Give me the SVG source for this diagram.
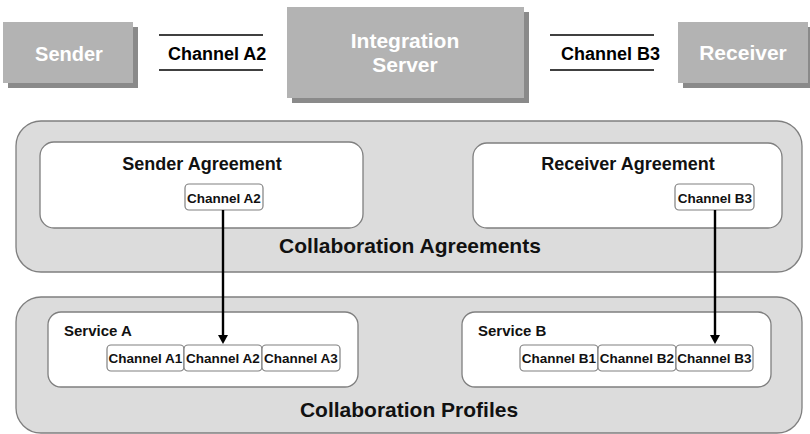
<svg xmlns="http://www.w3.org/2000/svg" width="810" height="434" viewBox="0 0 810 434">
  <defs>
    <marker id="arrowhead" markerWidth="9" markerHeight="10" refX="0" refY="5" orient="auto" markerUnits="userSpaceOnUse" viewBox="0 0 9 10">
      <path d="M0,0 L9,5 L0,10 Z" fill="#000"/>
    </marker>
  </defs>
  <style>
    text { font-family: "Liberation Sans", Arial, sans-serif; font-weight: bold; }
    .sys { fill: #b3b3b3; }
    .shadow { fill: #8a8a8a; }
    .sysLabel { fill: #ffffff; font-size: 21px; text-anchor: middle; }
    .chanLabel { fill: #000; font-size: 18px; }
    .rule { stroke: #000; stroke-width: 1.3; }
    .area { fill: #dcdcdc; stroke: #7f7f7f; stroke-width: 1.3; }
    .panel { fill: #ffffff; stroke: #7f7f7f; stroke-width: 1.3; }
    .chan { fill: #ffffff; stroke: #808080; stroke-width: 1.2; }
    .areaLabel { fill: #111; font-size: 21px; text-anchor: middle; }
    .panelLabel { fill: #111; font-size: 18px; text-anchor: middle; }
    .svcLabel { fill: #111; font-size: 15px; }
    .chanText { fill: #111; font-size: 13.5px; text-anchor: middle; }
    .link { stroke: #000; stroke-width: 2.4; fill: none; }
  </style>

  <!-- Top row: systems and channels -->
  <g id="sender">
    <rect class="shadow" x="8" y="27" width="130" height="61"/>
    <rect class="sys" x="3" y="22" width="130" height="61"/>
    <text class="sysLabel" x="69" y="61" style="font-size:20px">Sender</text>
  </g>
  <g id="channel-a2-top">
    <line class="rule" x1="159" y1="35" x2="263" y2="35"/>
    <line class="rule" x1="159" y1="70" x2="263" y2="70"/>
    <text class="chanLabel" x="168" y="60">Channel A2</text>
  </g>
  <g id="integration-server">
    <rect class="shadow" x="292" y="12" width="237" height="91"/>
    <rect class="sys" x="287" y="7" width="237" height="91"/>
    <text class="sysLabel" x="405" y="48">Integration</text>
    <text class="sysLabel" x="405" y="72">Server</text>
  </g>
  <g id="channel-b3-top">
    <line class="rule" x1="550" y1="35" x2="654" y2="35"/>
    <line class="rule" x1="550" y1="70" x2="654" y2="70"/>
    <text class="chanLabel" x="561" y="60">Channel B3</text>
  </g>
  <g id="receiver">
    <rect class="shadow" x="683" y="27" width="130" height="61"/>
    <rect class="sys" x="678" y="22" width="130" height="61"/>
    <text class="sysLabel" x="743" y="60">Receiver</text>
  </g>

  <!-- Collaboration agreements -->
  <g id="collaboration-agreements">
    <rect class="area" x="16" y="121" width="786" height="151" rx="25" ry="25"/>
    <text class="areaLabel" x="410" y="253">Collaboration Agreements</text>
  </g>
  <g id="sender-agreement">
    <rect class="panel" x="40" y="142" width="323" height="86" rx="14" ry="14"/>
    <text class="panelLabel" x="202" y="170">Sender Agreement</text>
    <rect class="chan" x="185" y="184" width="78" height="26" rx="4" ry="4"/>
    <text class="chanText" x="224" y="203">Channel A2</text>
  </g>
  <g id="receiver-agreement">
    <rect class="panel" x="473" y="143" width="309" height="85" rx="14" ry="14"/>
    <text class="panelLabel" x="628" y="170">Receiver Agreement</text>
    <rect class="chan" x="675" y="184" width="79" height="26" rx="4" ry="4"/>
    <text class="chanText" x="715" y="203">Channel B3</text>
  </g>

  <!-- Collaboration profiles -->
  <g id="collaboration-profiles">
    <rect class="area" x="16" y="297" width="786" height="136" rx="25" ry="25"/>
    <text class="areaLabel" x="409" y="417">Collaboration Profiles</text>
  </g>
  <g id="service-a">
    <rect class="panel" x="48" y="312" width="310" height="75" rx="13" ry="13"/>
    <text class="svcLabel" x="64" y="336">Service A</text>
    <rect class="chan" x="107" y="345" width="77" height="26" rx="4" ry="4"/>
    <text class="chanText" x="145.5" y="363">Channel A1</text>
    <rect class="chan" x="184" y="345" width="78" height="26" rx="4" ry="4"/>
    <text class="chanText" x="223" y="363">Channel A2</text>
    <rect class="chan" x="262" y="345" width="78" height="26" rx="4" ry="4"/>
    <text class="chanText" x="301" y="363">Channel A3</text>
  </g>
  <g id="service-b">
    <rect class="panel" x="462" y="312" width="309" height="75" rx="13" ry="13"/>
    <text class="svcLabel" x="478" y="336">Service B</text>
    <rect class="chan" x="520" y="345" width="78" height="26" rx="4" ry="4"/>
    <text class="chanText" x="559" y="363">Channel B1</text>
    <rect class="chan" x="598" y="345" width="78" height="26" rx="4" ry="4"/>
    <text class="chanText" x="637" y="363">Channel B2</text>
    <rect class="chan" x="676" y="345" width="77" height="26" rx="4" ry="4"/>
    <text class="chanText" x="714.5" y="363">Channel B3</text>
  </g>

  <!-- Connectors: agreement channel to service channel -->
  <g id="connectors">
    <line class="link" x1="223" y1="210" x2="223" y2="335" marker-end="url(#arrowhead)"/>
    <line class="link" x1="715" y1="210" x2="715" y2="335" marker-end="url(#arrowhead)"/>
  </g>
</svg>
